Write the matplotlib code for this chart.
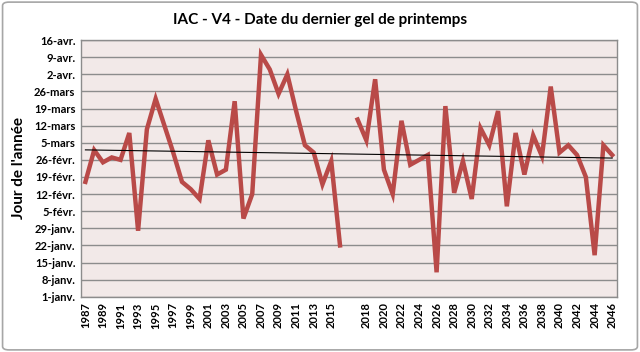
import numpy as np
import matplotlib
matplotlib.use('Agg')
from matplotlib import pyplot as plt
from matplotlib.patches import FancyBboxPatch

# categories: 1987-2016, one blank slot, then 2017-2046
years = [str(y) for y in range(1987, 2017)] + [''] + [str(y) for y in range(2017, 2047)]

# day of year of last spring frost (nan = blank category)
frost_day = [48, 61, 56, 58, 57, 68, 28, 69.5, 82, 71,
             60, 48, 45, 41, 65, 51, 53, 81, 33, 43,
             100, 94, 84, 92, 77, 63, 60, 47, 56.5, 22,
             np.nan,
             73.5, 65, 90, 53, 43, 73, 55, 57, 59, 11,
             79, 43.5, 56.5, 41, 70, 63, 77, 38, 68, 51,
             67, 58.5, 87, 60, 63, 59, 50, 18, 63, 59]

ytick_days = [1, 8, 15, 22, 29, 36, 43, 50, 57, 64, 71, 78, 85, 92, 99, 106]
ytick_labels = ['1-janv.', '8-janv.', '15-janv.', '22-janv.', '29-janv.', '5-févr.',
                '12-févr.', '19-févr.', '26-févr.', '5-mars', '12-mars', '19-mars',
                '26-mars', '2-avr.', '9-avr.', '16-avr.']


def main():
    plt.rcParams['font.family'] = ['Lato', 'DejaVu Sans']
    plt.rcParams['font.weight'] = 'bold'

    fig = plt.figure(figsize=(6.4, 3.52), dpi=100)
    ax = fig.add_axes([0.1266, 0.157, 0.8368, 0.729])

    x = np.arange(len(years))
    y = np.array(frost_day, dtype=float)

    ax.set_facecolor('#F2E9E8')
    ax.grid(axis='y', color='#8C8C8C', linewidth=1.0)
    ax.set_axisbelow(True)

    ax.plot(x, y, color='#B94A48', linewidth=3.2, solid_joinstyle='miter', zorder=3)

    # linear trend over the available points
    ok = ~np.isnan(y)
    slope, intercept = np.polyfit(x[ok], y[ok], 1)
    ax.plot(x, slope * x + intercept, color='black', linewidth=0.8, zorder=4)

    ax.set_xlim(-0.5, len(years) - 0.5)
    ax.set_ylim(1, 106)
    ax.set_yticks(ytick_days)
    ax.set_yticklabels(ytick_labels, fontsize=8, fontweight='bold')
    ax.set_xticks(x[::2])
    ax.set_xticklabels(years[::2], rotation=90, fontsize=8, fontweight='bold')
    ax.tick_params(length=0, pad=4)

    for s in ax.spines.values():
        s.set_color('#8C8C8C')
        s.set_linewidth(1.0)

    ax.set_ylabel("Jour de l'année", fontsize=11, fontweight='bold', labelpad=6)
    fig.text(0.5, 0.942, 'IAC - V4 - Date du dernier gel de printemps',
             ha='center', va='center', fontsize=11, fontweight='bold')

    frame = FancyBboxPatch((0.004, 0.006), 0.992, 0.988, boxstyle='round,pad=0,rounding_size=0.01',
                           transform=fig.transFigure, fill=False, edgecolor='#A6A6A6', linewidth=1.2)
    fig.patches.append(frame)

    fig.savefig('out.png', dpi=100)


if __name__ == "__main__":
    main()
